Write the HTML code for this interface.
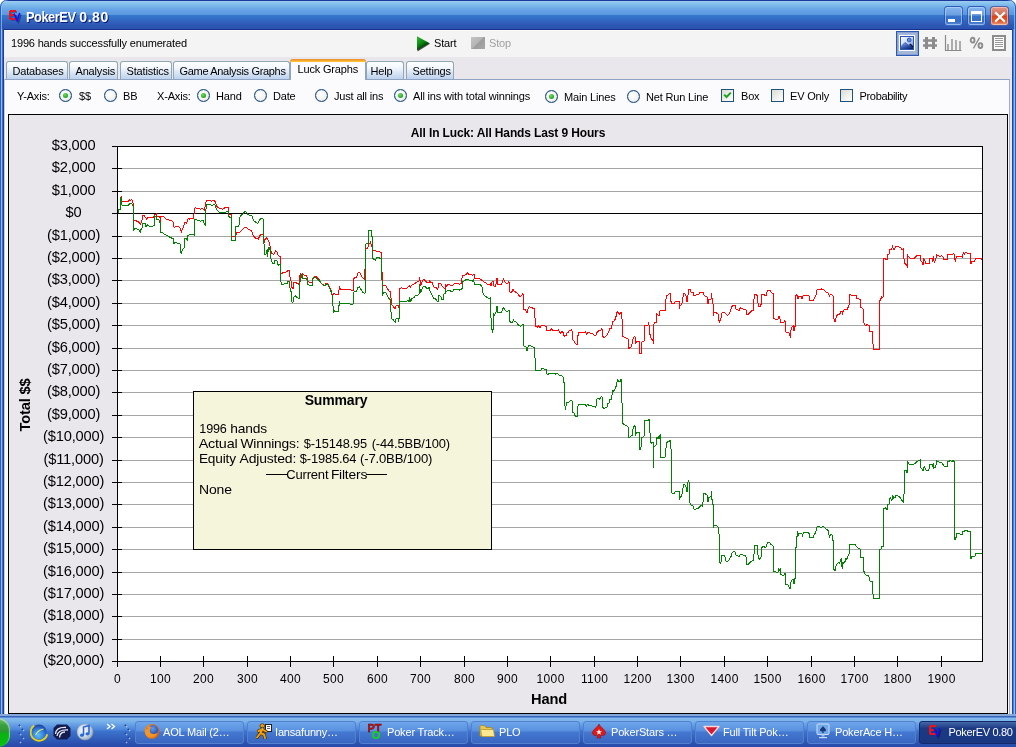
<!DOCTYPE html>
<html>
<head>
<meta charset="utf-8">
<title>PokerEV 0.80</title>
<style>
html,body{margin:0;padding:0;}
body{width:1016px;height:747px;overflow:hidden;position:relative;background:#e9e7ec;font-family:"Liberation Sans",sans-serif;font-size:11px;color:#000;letter-spacing:-0.17px;}
.abs{position:absolute;}
#titlebar{left:0;top:0;width:1016px;height:30px;border-radius:7px 7px 0 0;box-shadow:inset 1px 0 0 #2c5cc0,inset -1px 0 0 #2c5cc0,inset 2px 0 0 rgba(150,200,240,0.7),inset -2px 0 0 rgba(150,200,240,0.7);
 background:linear-gradient(to bottom,#1c3a9e 0px,#1c3a9e 1px,#9dcdf1 1px,#8ac4ee 3px,#72b0e8 7px,#66a2e6 10px,#5c98e0 14.5px,#347acd 15px,#3368c2 20px,#2d58b4 25px,#2b54b0 28.5px,#18308e 29px,#18308e 30px);}
#title2{left:79.3px;top:9px;font-size:14px;line-height:16px;font-weight:bold;color:#fff;letter-spacing:0.55px;text-shadow:1px 1px 0 #0a1a78;white-space:nowrap;}
#title{left:25.5px;top:9px;font-size:14px;line-height:16px;font-weight:bold;color:#fff;letter-spacing:-0.5px;text-shadow:1px 1px 0 #0a1a78;white-space:nowrap;}
#lborder{left:0;top:29px;width:4px;height:688px;background:linear-gradient(to right,#2c5cc0 0,#2c5cc0 1px,#8cbcec 1px,#8cbcec 2px,#3c6cc8 2px,#3c6cc8 3px,#1c3c9c 3px,#1c3c9c 4px);}
#rborder{left:1012px;top:29px;width:4px;height:688px;background:linear-gradient(to right,#2044a8 0,#2044a8 1px,#5080d4 1px,#5080d4 2px,#8cc0ee 2px,#8cc0ee 3px,#2c5cc0 3px,#2c5cc0 4px);}
#bborder{left:0;top:714px;width:1016px;height:3px;background:linear-gradient(to bottom,#88aad8 0,#88aad8 2px,#3a62b8 2px,#3a62b8 3px);}
#toolbar{left:4px;top:30px;width:1008px;height:27px;background:#f4f4f4;border-top:1px solid #fdfdf8;box-sizing:border-box;}
#tabstrip{left:4px;top:57px;width:1008px;height:23px;background:#e9e7ec;}
#page{left:4px;top:79px;width:1006px;height:635px;background:#fbfbfe;border-top:1px solid #8ea4c2;border-left:1px solid #c4cede;border-right:1px solid #9fb0c8;box-sizing:border-box;}
.tab{position:absolute;top:61px;height:18px;box-sizing:border-box;border:1px solid #91a7b4;border-bottom:none;border-radius:3px 3px 0 0;background:linear-gradient(to bottom,#ffffff 0,#f2f6fc 35%,#dbe7f6 60%,#bdd2ee 100%);text-align:left;padding-left:5.5px;line-height:18px;white-space:nowrap;}
.tab.sel{top:59px;height:21px;background:#fbfbfe;border-color:#8ea4c2;border-top:none;line-height:12px;padding-top:4px;z-index:3;}
.tab.sel::before{content:"";position:absolute;left:-1px;right:-1px;top:0;height:3px;border-radius:3px 3px 0 0;background:linear-gradient(to bottom,#e68b2c 0,#f5a530 45%,#ffc73c 100%);}
.lbl{position:absolute;top:90px;line-height:13px;white-space:nowrap;}
.radio{position:absolute;top:89px;width:13px;height:13px;box-sizing:border-box;border:1px solid #1f4f86;box-shadow:0 0 0.6px #1f4f86, inset 0 0 0.6px #1f4f86;border-radius:50%;background:radial-gradient(circle at 40% 40%,#ffffff 0,#f4f4f0 50%,#dcdcd4 100%);}
.radio.on::after{content:"";position:absolute;left:3px;top:3px;width:5px;height:5px;border-radius:50%;background:radial-gradient(circle at 40% 35%,#6fe060 0,#21a121 70%);}
.chk{position:absolute;top:89px;width:13px;height:13px;box-sizing:border-box;border:1px solid #1c5180;background:linear-gradient(135deg,#dcdcd4 0,#ffffff 100%);}
#chart{left:8px;top:114px;width:1000px;height:600px;box-sizing:border-box;border:1px solid #000;background:#e9e7ec;}
#taskbar{left:0;top:717px;width:1016px;height:30px;background:linear-gradient(to bottom,#5c8cd8 0,#5c8cd8 1px,#86bcec 1px,#7cb4ea 4px,#5e98e2 9px,#4a84da 13px,#3c74cc 14px,#3464c0 20px,#2c52b0 26px,#2848a8 30px);}
.tb{position:absolute;top:721px;height:23px;width:109px;box-sizing:border-box;border-radius:3px;border:1px solid #5480d0;background:linear-gradient(to bottom,#6ea6ea 0,#5a92e0 40%,#4478d0 50%,#3a66c2 100%);color:#fff;font-size:11px;line-height:21px;padding-left:27px;white-space:nowrap;overflow:hidden;}
.tb.act{background:linear-gradient(to bottom,#4468a8 0,#1c3a84 30%,#1a3680 100%);border-color:#14286a;width:100px;border-radius:3px 0 0 3px;}

.t{white-space:nowrap;}
.wb{top:6px;width:19px;height:20px;box-sizing:border-box;border:1px solid rgba(34,78,176,0.75);box-shadow:inset 0 0 0 1px rgba(190,218,248,0.6);border-radius:3.5px;background:linear-gradient(to bottom,#86b6ec 0,#6a9ee2 45%,#3674cc 50%,#3a6cc4 80%,#5a8cd6 100%);}
.wb.close{background:linear-gradient(to bottom,#e29686 0,#d26c54 45%,#dc4418 50%,#e05a2c 80%,#eca48c 100%);box-shadow:inset 0 0 0 1px rgba(255,205,190,0.65);}

.grip{top:724px;width:5px;height:20px;background-image:radial-gradient(circle at 1.5px 1.5px,#2448a8 0.8px,rgba(36,72,168,0.0) 1.3px),radial-gradient(circle at 2.3px 2.3px,rgba(255,255,255,0.55) 0.8px,rgba(255,255,255,0.0) 1.4px);background-size:5px 8px;}
.grip::after{content:"";position:absolute;left:3px;top:4px;width:5px;height:16px;background-image:radial-gradient(circle at 1.5px 1.5px,#2448a8 0.8px,rgba(36,72,168,0.0) 1.3px),radial-gradient(circle at 2.3px 2.3px,rgba(255,255,255,0.55) 0.8px,rgba(255,255,255,0.0) 1.4px);background-size:5px 8px;}
</style>
</head>
<body>
<div id="root" style="position:absolute;left:0;top:0;width:1016px;height:747px;overflow:hidden;will-change:transform;opacity:0.9999;">
<div class="abs" style="left:0;top:0;width:1016px;height:10px;background:#fff;"></div>
<div id="titlebar" class="abs"></div>
<div id="title" class="abs"><span style="display:inline-block;transform:scaleX(0.915);transform-origin:0 50%;">PokerEV</span></div>
<div id="title2" class="abs">0.80</div>
<div id="lborder" class="abs"></div>
<div id="rborder" class="abs"></div>
<div id="toolbar" class="abs"></div>
<div id="tabstrip" class="abs"></div>
<div id="page" class="abs"></div>
<div id="status" class="abs" style="left:11px;top:37px;line-height:13px;white-space:nowrap;">1996 hands successfully enumerated</div>


<!-- title icon -->
<svg class="abs" style="left:7px;top:8px;" width="18" height="16" viewBox="0 0 18 16">
 <path d="M3.5 3 L9 3 M3.5 3 L3.5 11 M3.5 7 L8 7 M3.5 11 L9 11" stroke="#30407a" stroke-width="2" fill="none" transform="translate(1,1)" opacity="0.6"/>
 <path d="M3 3 L9 3 M3 3 L3 11 M3 7 L8 7 M3 11 L9 11" stroke="#f01018" stroke-width="2" fill="none"/>
 <path d="M7.5 6 L10.5 13 L13 5.5" stroke="#202868" stroke-width="1.6" fill="none" transform="translate(1,1)" opacity="0.7"/>
 <path d="M7 5.5 L10 12.5 L12.7 5" stroke="#1a10f0" stroke-width="1.6" fill="none"/>
</svg>
<!-- window buttons -->
<div class="abs wb" style="left:944px;"><div class="abs" style="left:3px;top:12px;width:7px;height:3px;background:#fff;"></div></div>
<div class="abs wb" style="left:967px;"><div class="abs" style="left:3px;top:4px;width:11px;height:11px;box-sizing:border-box;border:1px solid #fff;border-top-width:3px;"></div></div>
<div class="abs wb close" style="left:990px;"><svg class="abs" style="left:3px;top:4px" width="12" height="12" viewBox="0 0 12 12"><path d="M1.2 1.2 L10.8 10.8 M10.8 1.2 L1.2 10.8" stroke="#fff" stroke-width="2.1"/></svg></div>
<!-- start/stop -->
<svg class="abs" style="left:415px;top:35px;" width="18" height="18" viewBox="0 0 18 18">
 <defs><linearGradient id="pg" x1="0" y1="0" x2="0.6" y2="1"><stop offset="0" stop-color="#2fc02f"/><stop offset="0.5" stop-color="#0c8a10"/><stop offset="0.85" stop-color="#043008"/><stop offset="1" stop-color="#000000"/></linearGradient></defs>
 <path d="M2.6 2.2 L15 8.7 L2.6 16.6 Z" fill="#202020" opacity="0.75"/>
 <path d="M2 1.2 L14.6 8.3 L2 15.4 Z" fill="url(#pg)"/>
</svg>
<div class="abs t" style="left:434px;top:37px;line-height:13px;">Start</div>
<div class="abs" style="left:471px;top:37px;width:14px;height:12px;background:linear-gradient(135deg,#c4c4c4 0,#b4b4b4 49%,#9c9c9c 51%,#a8a8a8 100%);"></div>
<div class="abs t" style="left:489px;top:37px;line-height:13px;color:#a0a0a0;">Stop</div>
<!-- right toolbar -->
<div class="abs" style="left:896px;top:31px;width:23px;height:25px;box-sizing:border-box;border:1px solid #2c5ab2;outline:1px solid #86a0d4;outline-offset:-2px;background:#a5b7d9;"></div>
<svg class="abs" style="left:899px;top:35px;" width="16" height="16" viewBox="0 0 16 16">
 <defs><linearGradient id="ig" x1="0" y1="0" x2="1" y2="1"><stop offset="0" stop-color="#ffffff"/><stop offset="0.5" stop-color="#c8d8f4"/><stop offset="1" stop-color="#5478c8"/></linearGradient>
 <linearGradient id="mg" x1="0" y1="0" x2="0.7" y2="1"><stop offset="0" stop-color="#9ab4e8"/><stop offset="0.6" stop-color="#3458b0"/><stop offset="1" stop-color="#10286c"/></linearGradient></defs>
 <rect x="0" y="0" width="16" height="16" fill="#fff"/>
 <rect x="1.5" y="1.5" width="13" height="13" fill="url(#ig)" stroke="#2c54b4" stroke-width="1"/>
 <circle cx="10.2" cy="5" r="1.9" fill="#6c90dc" stroke="#2c54b4" stroke-width="1"/>
 <path d="M2 11.5 L6 7.5 L9.5 10 L11 8.8 L14 11.8 L14 14 L2 14 Z" fill="url(#mg)"/>
 <path d="M11 8.8 L14 11.8" stroke="#080c20" stroke-width="1.2"/>
 <path d="M2 11.5 L6 7.5 L9.5 10" stroke="#2c54b4" stroke-width="0.8" fill="none"/>
</svg>
<svg class="abs" style="left:922px;top:36px;" width="16" height="14" viewBox="0 0 16 14">
 <path d="M4.5 1 V13 M11.5 1 V13" stroke="#8c8c8c" stroke-width="3"/>
 <path d="M1 4.5 H15 M1 9.5 H15" stroke="#8c8c8c" stroke-width="2.6"/>
</svg>
<svg class="abs" style="left:944px;top:34px;" width="19" height="18" viewBox="0 0 19 18">
 <path d="M1.5 1 V16.5 H17.5" stroke="#8a8a8a" stroke-width="1.2" fill="none"/>
 <path d="M4 10 V16 M8 5 V16 M12 6 V16 M16 7 V16" stroke="#a0a0a0" stroke-width="1.7"/>
</svg>
<svg class="abs" style="left:969px;top:36px;" width="16" height="14" viewBox="0 0 16 14">
 <ellipse cx="3.6" cy="4.2" rx="1.9" ry="2.4" fill="none" stroke="#8c8c8c" stroke-width="1.9"/>
 <ellipse cx="11.4" cy="9.6" rx="1.9" ry="2.4" fill="none" stroke="#8c8c8c" stroke-width="1.9"/>
 <path d="M10.6 1.6 L4.4 12.4" stroke="#8c8c8c" stroke-width="1.3"/>
</svg>
<svg class="abs" style="left:992px;top:35px;" width="14" height="16" viewBox="0 0 14 16" shape-rendering="crispEdges">
 <rect x="1" y="1" width="12" height="14" fill="#fbfbfb" stroke="#8c8c8c" stroke-width="2"/>
 <path d="M3 3.5 H11 M3 5.5 H11 M3 7.5 H11 M3 9.5 H11 M3 11.5 H11" stroke="#9a9a9a" stroke-width="1"/>
</svg>


<div class="tab" style="left:6px;width:62px;">Databases</div>
<div class="tab" style="left:69px;width:49px;">Analysis</div>
<div class="tab" style="left:120px;width:52px;">Statistics</div>
<div class="tab" style="left:173px;width:117px;letter-spacing:-0.32px;">Game Analysis Graphs</div>
<div class="tab sel" style="left:290px;width:76px;padding-left:6.5px;">Luck Graphs</div>
<div class="tab" style="left:366px;width:38px;padding-left:3.5px;">Help</div>
<div class="tab" style="left:406px;width:48px;">Settings</div>

<div class="lbl" style="left:17px;">Y-Axis:</div>
<div class="radio on" style="left:59px;"></div><div class="lbl" style="left:79px;">$$</div>
<div class="radio" style="left:104px;"></div><div class="lbl" style="left:123px;">BB</div>
<div class="lbl" style="left:157px;">X-Axis:</div>
<div class="radio on" style="left:197px;"></div><div class="lbl" style="left:216px;">Hand</div>
<div class="radio" style="left:254px;"></div><div class="lbl" style="left:273px;">Date</div>
<div class="radio" style="left:315px;"></div><div class="lbl" style="left:334px;">Just all ins</div>
<div class="radio on" style="left:394px;"></div><div class="lbl" style="left:413px;">All ins with total winnings</div>
<div class="radio on" style="left:545px;top:90px;"></div><div class="lbl" style="left:564px;top:91px;">Main Lines</div>
<div class="radio" style="left:627px;top:90px;"></div><div class="lbl" style="left:646px;top:91px;">Net Run Line</div>
<div class="chk" style="left:721px;"><svg style="position:absolute;left:1px;top:1px" width="9" height="9" viewBox="0 0 9 9"><path d="M1.2 3.6 L3.5 6 L7.8 1.6" stroke="#21a121" stroke-width="2" fill="none"/></svg></div><div class="lbl" style="left:741px;">Box</div>
<div class="chk" style="left:771px;"></div><div class="lbl" style="left:790px;">EV Only</div>
<div class="chk" style="left:840px;"></div><div class="lbl" style="left:859.5px;letter-spacing:-0.33px;">Probability</div>

<div id="chart" class="abs"></div>
<svg class="abs" style="left:0;top:0;" width="1016" height="717" viewBox="0 0 1016 717">
<rect x="117" y="146" width="866" height="516" fill="#ffffff"/>
<path d="M122 168.5 H982 M122 191.5 H982 M122 236.5 H982 M122 258.5 H982 M122 280.5 H982 M122 303.5 H982 M122 325.5 H982 M122 348.5 H982 M122 370.5 H982 M122 392.5 H982 M122 415.5 H982 M122 437.5 H982 M122 460.5 H982 M122 482.5 H982 M122 504.5 H982 M122 527.5 H982 M122 549.5 H982 M122 572.5 H982 M122 594.5 H982 M122 616.5 H982 M122 639.5 H982" stroke="#a6a6a6" stroke-width="1" fill="none" shape-rendering="crispEdges"/>
<path d="M112 146.5 H983 M117.5 146 V667 M982.5 146 V662 M112 661.5 H983 M112 213.5 H983 M112 168.5 H122 M112 191.5 H122 M112 213.5 H122 M112 236.5 H122 M112 258.5 H122 M112 280.5 H122 M112 303.5 H122 M112 325.5 H122 M112 348.5 H122 M112 370.5 H122 M112 392.5 H122 M112 415.5 H122 M112 437.5 H122 M112 460.5 H122 M112 482.5 H122 M112 504.5 H122 M112 527.5 H122 M112 549.5 H122 M112 572.5 H122 M112 594.5 H122 M112 616.5 H122 M112 639.5 H122 M160.5 656 V667 M203.5 656 V667 M247.5 656 V667 M290.5 656 V667 M333.5 656 V667 M377.5 656 V667 M420.5 656 V667 M464.5 656 V667 M507.5 656 V667 M550.5 656 V667 M594.5 656 V667 M637.5 656 V667 M680.5 656 V667 M724.5 656 V667 M767.5 656 V667 M811.5 656 V667 M854.5 656 V667 M897.5 656 V667 M941.5 656 V667" stroke="#000" stroke-width="1" fill="none" shape-rendering="crispEdges"/>
<path d="M118.0 212.6 L118.0 209.6 L120.5 209.6 L120.8 198.6 L121.3 197.6 L122.0 201.1 L128.6 201.1 L129.6 199.6 L130.6 200.6 L131.6 199.6 L132.6 200.6 L133.1 203.6 L133.6 207.1 L133.9 220.6 L137.1 221.1 L138.6 222.1 L140.6 224.2 L141.6 221.1 L142.1 220.1 L142.6 215.1 L144.1 215.6 L146.6 219.1 L148.1 217.1 L150.2 217.6 L153.2 217.1 L154.7 214.6 L156.2 214.1 L156.7 216.6 L159.2 216.6 L160.2 218.1 L160.5 221.6 L160.9 216.6 L163.2 216.6 L165.2 218.1 L166.7 219.6 L169.2 220.1 L172.2 221.1 L173.2 222.1 L173.7 226.7 L174.8 227.2 L175.8 226.2 L177.8 226.2 L179.3 227.2 L180.3 228.2 L181.3 232.2 L182.3 229.2 L183.8 226.7 L184.5 222.7 L186.3 222.7 L186.8 223.7 L187.5 219.6 L188.3 218.6 L189.3 219.1 L190.3 218.6 L193.8 218.1 L194.3 208.6 L195.3 207.6 L197.3 208.6 L200.4 209.1 L202.4 208.6 L203.4 209.6 L204.6 210.6 L205.4 203.6 L206.4 200.6 L209.9 200.6 L211.4 201.1 L211.2 201.6 L213.6 200.4 L215.4 201.6 L216.4 206.1 L218.4 207.7 L220.9 208.5 L222.7 209.1 L225.1 207.7 L228.4 207.3 L228.7 213.9 L231.5 214.5 L231.7 236.6 L235.7 236.6 L236.5 232.6 L240.1 232.2 L242.5 229.6 L245.0 227.2 L246.8 227.8 L248.6 229.8 L251.3 230.2 L252.8 234.4 L254.6 237.4 L256.4 238.6 L258.2 239.2 L259.4 236.8 L260.6 234.4 L263.0 234.2 L263.6 238.0 L264.6 241.6 L265.4 239.2 L266.6 238.0 L268.4 240.4 L269.7 244.0 L270.6 250.1 L272.1 253.7 L273.9 254.3 L275.4 250.7 L276.9 251.9 L278.1 255.5 L280.3 256.7 L280.7 269.3 L281.1 273.6 L284.1 272.3 L287.1 271.7 L287.7 270.5 L289.5 270.5 L289.9 275.0 L289.9 276.8 L291.1 281.0 L291.7 287.7 L293.1 288.3 L293.9 282.8 L295.3 282.2 L297.1 283.4 L298.9 284.3 L299.6 276.8 L300.4 273.2 L300.8 278.0 L302.3 273.8 L304.3 275.0 L306.7 275.4 L307.6 280.4 L309.2 282.2 L312.2 282.2 L313.1 277.4 L315.8 276.2 L317.6 278.0 L319.4 279.8 L320.6 282.6 L323.0 284.6 L324.8 285.2 L326.0 283.4 L328.4 284.3 L329.6 287.7 L331.4 291.3 L332.4 296.1 L333.9 293.7 L335.7 294.3 L338.1 294.9 L338.9 290.7 L339.6 286.4 L340.5 289.5 L349.5 289.5 L351.3 290.3 L353.1 290.1 L353.7 279.0 L354.9 277.4 L356.7 277.0 L357.7 273.2 L359.2 272.2 L360.4 273.8 L362.2 277.4 L364.6 279.0 L365.8 249.1 L367.6 248.5 L368.8 244.3 L370.6 241.9 L371.4 246.7 L372.4 247.3 L373.0 250.3 L374.8 250.9 L378.4 251.3 L381.4 252.7 L382.0 271.4 L382.7 280.4 L383.0 285.2 L385.7 285.2 L387.5 288.9 L389.3 291.3 L390.0 291.3 L390.4 292.8 L391.0 298.2 L391.6 304.8 L392.8 306.0 L394.0 307.8 L395.2 308.4 L396.1 305.7 L398.0 305.4 L398.9 307.2 L399.2 301.8 L399.7 288.6 L401.3 287.6 L403.1 288.6 L406.7 288.3 L408.5 286.7 L409.1 285.5 L410.3 287.3 L411.5 285.5 L412.7 284.3 L415.1 283.7 L415.7 282.5 L417.5 281.9 L419.0 281.1 L419.5 277.5 L420.2 281.3 L420.7 285.5 L421.4 284.9 L422.3 280.7 L423.6 279.2 L425.4 281.1 L427.2 282.5 L429.0 282.8 L429.8 280.7 L430.8 282.3 L432.2 282.5 L433.2 285.5 L434.4 287.3 L436.2 287.6 L437.8 289.2 L438.6 283.5 L440.4 283.1 L441.6 285.5 L443.4 287.6 L445.0 288.8 L445.5 284.9 L446.4 286.1 L447.7 284.7 L450.1 284.9 L451.3 285.5 L453.1 285.2 L454.3 283.7 L456.1 283.1 L457.9 283.5 L459.1 284.3 L461.5 283.7 L462.3 275.3 L464.5 275.1 L466.3 274.1 L467.5 273.1 L469.3 274.7 L471.1 274.1 L472.3 275.1 L474.4 274.7 L474.9 278.3 L477.8 278.3 L479.6 278.7 L481.4 279.9 L483.2 281.3 L485.0 282.5 L487.4 284.3 L489.2 284.9 L490.4 283.7 L491.0 286.1 L492.0 281.9 L493.4 281.6 L494.0 286.1 L494.9 286.7 L495.8 284.9 L496.0 284.7 L496.4 278.4 L497.4 278.4 L497.7 284.5 L501.6 284.5 L502.5 281.4 L503.4 279.0 L504.6 281.1 L505.8 283.0 L507.7 283.5 L508.5 282.0 L509.5 282.3 L509.7 291.7 L510.7 292.7 L511.9 291.7 L513.1 289.3 L514.3 291.4 L516.1 292.3 L517.9 294.1 L519.7 296.3 L521.5 295.9 L522.5 293.5 L523.3 294.1 L523.7 309.2 L525.1 309.8 L526.6 311.6 L527.3 313.4 L527.8 309.2 L529.3 306.4 L531.1 307.6 L533.6 308.3 L534.5 309.2 L535.0 318.2 L535.7 326.6 L537.2 327.2 L538.6 326.0 L540.2 327.6 L541.4 325.7 L543.2 325.2 L544.6 326.0 L546.2 326.4 L546.6 330.2 L548.6 330.5 L550.7 330.0 L551.6 329.0 L552.8 330.2 L554.6 330.8 L556.2 330.2 L558.3 330.0 L559.5 331.7 L560.7 333.3 L561.9 331.4 L563.4 332.7 L564.3 336.9 L565.1 335.7 L566.3 335.1 L567.0 332.7 L568.5 332.0 L569.7 330.2 L571.5 330.0 L572.1 331.4 L572.7 339.9 L573.9 340.5 L575.1 343.3 L576.7 344.7 L577.5 344.1 L577.9 336.0 L578.7 332.4 L581.7 332.0 L584.8 332.0 L585.6 331.2 L586.3 334.5 L587.5 332.7 L589.0 332.4 L590.2 333.3 L591.4 333.9 L592.8 333.6 L594.4 335.1 L596.0 335.3 L596.8 332.7 L598.0 331.4 L599.2 330.2 L600.4 330.8 L601.6 329.0 L602.2 329.6 L602.6 336.3 L604.0 337.7 L605.2 336.9 L607.0 335.1 L608.0 332.7 L608.9 332.0 L609.5 328.4 L611.6 328.1 L612.5 321.8 L613.7 321.2 L615.0 319.6 L615.8 317.6 L616.6 313.4 L617.5 311.6 L618.7 313.6 L619.9 314.3 L621.1 311.6 L621.6 318.2 L622.5 319.4 L622.8 336.3 L624.5 337.2 L626.3 338.1 L628.1 339.3 L628.7 348.3 L630.2 347.7 L631.7 346.1 L632.7 339.9 L633.9 336.9 L634.7 336.3 L635.3 337.5 L635.5 343.3 L636.5 342.9 L636.7 341.3 L639.2 341.3 L639.6 353.1 L641.3 353.1 L641.7 342.3 L643.1 341.3 L644.3 340.8 L644.7 325.4 L648.0 325.4 L648.6 323.6 L649.3 325.4 L649.8 333.9 L650.7 336.3 L651.2 339.6 L652.8 339.6 L653.4 344.1 L653.6 324.2 L654.8 322.8 L656.4 322.4 L656.7 313.6 L658.0 314.8 L659.2 315.5 L659.6 311.6 L660.8 310.4 L663.6 310.4 L665.2 310.7 L665.7 302.5 L666.4 295.5 L667.8 295.1 L669.0 293.9 L670.2 293.5 L670.7 300.7 L671.7 303.1 L674.5 303.5 L675.3 301.6 L677.5 301.6 L679.3 301.9 L679.6 308.6 L680.1 305.5 L681.7 304.9 L682.5 298.9 L683.7 293.5 L685.3 294.3 L686.1 295.9 L686.6 301.3 L687.6 301.3 L688.1 294.1 L688.9 289.9 L690.5 289.3 L691.0 292.3 L693.1 292.7 L693.7 295.3 L695.8 295.1 L697.0 294.3 L698.9 294.1 L699.8 292.3 L703.4 292.3 L704.0 295.3 L705.8 296.3 L707.3 297.5 L707.8 303.1 L708.6 303.1 L709.0 299.5 L711.0 298.9 L711.4 293.5 L712.2 298.9 L712.7 303.7 L713.4 304.3 L713.6 315.5 L714.2 312.2 L716.0 312.4 L717.8 314.0 L718.7 314.8 L719.0 320.4 L719.6 322.0 L720.8 319.4 L721.4 314.8 L722.3 312.4 L724.2 312.4 L725.7 314.0 L727.5 315.2 L728.7 314.3 L730.0 312.4 L730.8 309.8 L731.6 306.7 L733.2 305.5 L735.2 305.2 L735.8 308.8 L737.7 309.8 L739.2 310.4 L740.4 307.6 L741.9 308.8 L743.7 309.2 L745.5 309.5 L746.4 311.0 L746.7 314.3 L748.5 314.0 L750.3 312.4 L751.7 310.7 L753.3 310.4 L753.7 302.3 L754.4 294.7 L756.1 294.7 L757.3 295.5 L757.8 302.5 L758.7 306.1 L760.2 306.1 L761.1 304.3 L761.6 294.7 L763.3 294.3 L764.8 295.3 L766.2 295.1 L767.2 291.7 L768.1 290.5 L770.2 290.5 L771.4 292.7 L773.2 293.5 L773.7 318.8 L775.4 319.2 L778.0 319.2 L778.6 316.4 L779.8 316.7 L780.4 322.0 L781.6 322.8 L783.8 323.0 L784.3 320.6 L785.2 321.6 L785.7 331.7 L787.0 332.4 L788.9 332.4 L789.5 335.1 L790.3 336.3 L791.0 330.2 L792.2 326.6 L793.1 326.0 L793.4 330.8 L794.4 330.8 L794.9 326.0 L795.5 326.0 L795.6 295.5 L797.0 294.7 L797.5 298.3 L798.3 298.3 L798.7 296.3 L801.5 296.3 L802.1 298.9 L803.1 295.9 L804.5 295.3 L808.4 295.3 L809.3 296.5 L809.6 300.4 L813.6 300.4 L814.4 298.3 L816.0 294.7 L816.6 291.1 L817.5 289.3 L821.4 289.0 L823.6 289.3 L825.0 291.1 L826.8 292.3 L828.4 293.5 L829.6 295.9 L830.4 294.3 L832.2 295.3 L833.4 296.3 L833.7 317.6 L834.4 321.2 L835.2 321.2 L835.8 318.2 L837.0 315.2 L838.9 314.3 L840.4 313.6 L840.9 311.6 L842.1 311.6 L842.5 314.8 L843.3 311.0 L844.3 309.8 L845.0 310.0 L846.0 309.7 L847.5 309.1 L848.7 305.5 L849.4 304.3 L849.6 294.6 L850.8 295.0 L856.3 295.0 L856.6 298.3 L858.1 298.6 L860.2 299.5 L860.7 307.3 L862.3 308.3 L863.5 309.5 L863.5 322.2 L864.7 324.3 L865.9 326.1 L866.7 324.9 L869.2 325.1 L869.5 331.5 L872.3 331.9 L872.5 343.6 L873.5 344.4 L873.7 349.2 L879.2 349.2 L879.3 300.7 L880.4 300.1 L881.6 297.0 L882.4 297.7 L883.4 296.4 L883.6 258.5 L885.2 258.5 L885.8 259.7 L887.2 259.1 L887.6 254.3 L889.4 254.0 L889.6 249.5 L891.8 249.2 L892.4 246.4 L893.6 249.5 L894.8 248.9 L895.4 247.0 L896.6 246.1 L899.0 247.0 L900.8 247.7 L902.0 250.1 L903.3 249.2 L903.9 257.9 L904.5 263.3 L906.0 264.5 L907.2 266.3 L907.5 254.3 L908.4 256.7 L909.9 258.1 L912.3 258.5 L914.5 258.1 L915.9 256.7 L917.1 255.5 L920.1 255.2 L920.5 260.9 L921.9 261.3 L922.5 264.5 L923.4 264.2 L923.7 259.1 L924.9 259.7 L925.3 263.7 L929.2 263.7 L929.6 258.5 L932.2 258.1 L932.5 261.5 L933.4 256.4 L934.0 260.9 L934.6 262.1 L935.8 259.7 L936.4 254.5 L937.8 255.5 L939.4 256.4 L941.8 255.7 L943.0 257.3 L943.6 259.3 L947.0 259.7 L947.5 254.9 L949.0 254.3 L951.4 254.9 L953.3 253.7 L954.2 254.3 L954.5 259.4 L955.4 260.6 L956.0 257.9 L956.4 256.4 L962.0 256.4 L962.4 257.6 L962.6 254.3 L963.5 253.1 L964.4 254.3 L965.3 252.5 L966.5 252.5 L967.4 253.4 L970.4 253.4 L970.7 263.3 L971.4 263.3 L971.6 261.5 L974.3 261.4 L974.9 260.6 L975.5 259.1 L976.1 258.4 L981.3 258.4 L981.6 259.4 L982.2 258.8" stroke="#ff0000" stroke-width="1" fill="none" stroke-linejoin="miter" shape-rendering="crispEdges"/>
<path d="M118.0 212.6 L118.0 209.6 L120.5 209.6 L120.5 198.1 L121.0 198.6 L121.0 204.6 L122.0 205.1 L128.6 205.1 L129.6 203.6 L131.6 203.6 L132.6 204.6 L133.3 207.6 L133.3 230.7 L134.6 228.7 L138.6 229.2 L140.1 232.2 L141.1 229.2 L142.1 228.2 L142.6 223.7 L145.1 223.2 L146.1 227.2 L147.1 224.7 L149.1 226.2 L152.2 226.2 L154.7 225.2 L154.9 216.1 L156.2 216.6 L156.2 219.1 L158.7 219.6 L159.7 222.1 L160.5 222.7 L160.5 232.2 L162.2 232.7 L165.2 234.7 L168.2 236.2 L170.7 237.7 L173.2 238.7 L173.4 243.2 L176.3 242.7 L178.8 243.7 L180.5 244.2 L180.8 252.3 L181.3 253.3 L182.3 249.8 L184.3 247.8 L184.5 238.2 L185.8 238.2 L187.3 240.2 L187.5 235.7 L190.3 234.7 L192.8 234.2 L194.3 235.2 L194.5 219.1 L197.3 220.1 L200.4 221.1 L202.9 220.1 L203.9 222.7 L205.4 225.2 L205.6 209.1 L206.4 208.6 L206.6 204.1 L209.9 204.1 L211.4 205.1 L211.8 205.5 L214.2 204.3 L215.4 205.5 L216.4 209.1 L218.4 211.5 L219.7 212.5 L225.1 212.5 L226.3 211.5 L228.4 211.5 L228.7 216.3 L229.9 217.5 L231.5 217.5 L231.7 240.4 L235.7 240.4 L235.9 226.6 L238.9 226.6 L239.5 217.5 L241.3 215.1 L243.1 213.9 L245.0 211.3 L246.2 212.1 L247.4 213.9 L249.2 215.1 L251.6 215.1 L252.8 218.7 L254.6 221.7 L256.4 222.3 L257.6 223.6 L258.8 221.1 L260.6 218.5 L262.4 218.5 L263.6 219.9 L263.9 242.2 L264.6 254.3 L266.0 254.3 L266.3 250.7 L267.2 250.1 L267.5 256.7 L268.4 247.7 L269.4 247.7 L270.3 250.7 L270.6 257.3 L271.5 261.5 L272.7 263.3 L274.5 263.3 L274.7 260.3 L276.9 260.3 L277.5 263.3 L278.1 265.1 L280.3 264.5 L280.5 275.0 L280.6 279.8 L281.4 284.3 L283.9 284.0 L285.1 283.1 L287.5 283.1 L288.1 281.0 L289.3 281.0 L289.9 287.7 L291.1 291.9 L291.7 301.5 L292.9 302.7 L293.5 297.3 L295.3 295.5 L297.1 297.9 L299.3 298.3 L299.6 282.8 L300.7 279.8 L301.9 273.8 L302.5 278.0 L306.7 278.0 L307.6 284.0 L309.2 285.2 L312.2 285.2 L313.1 278.0 L314.6 277.4 L316.4 278.0 L317.6 279.8 L319.4 280.2 L320.6 282.8 L323.0 285.2 L324.8 285.8 L326.0 284.0 L327.8 285.0 L329.6 288.3 L331.4 292.5 L332.4 297.3 L332.9 304.5 L333.5 313.0 L334.5 310.5 L336.3 311.7 L338.4 311.7 L338.9 306.3 L339.6 301.5 L340.1 303.9 L344.1 303.9 L345.3 303.3 L349.5 303.6 L351.3 304.5 L353.1 303.9 L353.7 292.5 L354.9 291.3 L356.7 291.0 L357.7 287.7 L359.4 286.7 L360.4 288.9 L361.8 290.1 L362.8 292.5 L364.6 293.4 L365.4 291.9 L365.8 244.3 L367.3 243.3 L368.2 243.1 L368.6 231.0 L371.4 230.4 L371.8 236.4 L372.4 237.0 L372.7 258.1 L373.9 259.3 L375.4 260.5 L376.6 257.5 L378.4 257.3 L379.6 258.1 L381.4 258.1 L382.0 280.4 L382.7 296.1 L383.3 292.5 L385.7 292.5 L387.5 296.1 L389.3 299.1 L390.0 299.7 L390.4 299.6 L390.8 307.8 L391.3 318.7 L392.8 319.3 L394.6 322.0 L395.6 322.5 L396.1 318.7 L398.0 318.4 L398.5 321.7 L399.2 318.1 L399.7 301.8 L403.1 301.6 L406.7 301.6 L407.9 300.0 L409.1 301.8 L409.7 298.8 L410.9 301.2 L412.1 298.2 L413.9 297.6 L415.1 295.8 L417.5 295.2 L419.3 294.0 L419.7 284.3 L420.2 292.2 L421.1 291.6 L422.3 288.6 L423.6 286.1 L425.4 286.7 L426.6 288.3 L428.4 288.8 L429.0 287.3 L429.8 290.4 L431.4 293.4 L432.6 295.8 L433.8 298.4 L435.6 298.8 L437.4 301.2 L438.3 301.2 L438.7 295.5 L439.8 295.8 L441.0 296.7 L441.6 299.4 L443.4 299.4 L443.8 294.0 L445.0 293.6 L445.5 289.8 L446.4 291.6 L447.7 290.4 L450.1 290.7 L451.3 291.6 L453.1 291.0 L453.7 289.5 L456.1 289.5 L458.5 289.2 L459.7 290.4 L461.5 289.2 L462.3 288.0 L462.8 281.6 L464.5 280.7 L466.3 279.5 L468.1 279.3 L469.3 280.1 L471.1 280.7 L472.3 281.3 L473.6 279.5 L474.4 284.3 L476.6 284.7 L480.2 284.7 L481.4 285.9 L482.3 287.3 L482.8 292.2 L483.8 294.8 L485.6 296.4 L487.4 297.6 L488.9 298.4 L490.4 297.6 L490.8 315.1 L491.3 322.3 L492.0 329.5 L492.6 332.5 L493.2 329.5 L493.7 313.9 L494.6 315.1 L495.8 312.7 L496.0 312.4 L496.4 306.1 L497.4 306.1 L497.7 312.4 L501.6 312.4 L502.5 309.8 L503.4 307.6 L504.6 309.2 L505.8 311.0 L507.7 311.9 L508.5 310.4 L509.5 310.7 L509.7 321.2 L510.7 322.4 L512.5 322.0 L513.3 320.0 L514.3 321.8 L516.1 322.0 L517.3 323.6 L519.1 325.7 L520.9 326.4 L522.1 324.8 L523.3 324.5 L523.7 345.9 L525.1 346.9 L526.6 347.1 L526.9 351.3 L527.5 348.3 L528.5 345.7 L529.9 345.3 L531.1 346.1 L533.0 346.9 L534.5 347.7 L534.5 347.3 L534.7 357.9 L535.4 358.5 L535.4 370.2 L541.1 370.2 L542.3 368.1 L544.1 369.3 L546.3 369.7 L546.7 373.6 L548.0 374.5 L549.5 373.3 L553.7 373.3 L555.2 374.2 L556.7 373.3 L558.3 374.2 L559.8 376.0 L561.6 375.4 L563.1 376.9 L563.6 382.0 L564.6 382.6 L564.8 403.7 L565.5 410.3 L566.4 403.1 L567.6 402.5 L569.4 401.9 L570.6 400.3 L572.0 401.0 L572.5 412.1 L574.0 412.7 L575.2 416.0 L577.2 416.3 L577.6 408.5 L578.4 404.6 L585.1 404.3 L586.3 406.3 L587.7 404.3 L589.3 405.5 L591.1 405.1 L592.3 406.1 L594.1 406.3 L595.9 407.5 L596.5 400.7 L597.3 398.6 L598.9 398.3 L599.5 399.5 L601.0 397.0 L601.9 396.4 L602.5 397.7 L602.7 407.3 L603.7 408.3 L605.5 407.9 L607.0 407.0 L607.7 403.7 L608.9 403.9 L609.6 399.8 L611.6 399.1 L612.5 390.7 L613.4 391.6 L614.9 389.0 L615.8 386.6 L616.6 386.2 L617.3 379.6 L618.6 381.4 L619.8 382.0 L621.0 379.6 L621.4 379.3 L621.9 402.5 L622.7 404.3 L622.2 403.0 L622.5 422.9 L624.0 424.3 L625.8 425.3 L627.7 426.5 L628.5 428.3 L628.7 437.3 L630.1 437.1 L631.3 435.5 L632.5 435.2 L633.1 428.3 L634.3 425.5 L635.2 426.7 L635.7 434.3 L636.7 432.3 L639.1 432.3 L639.7 434.0 L639.8 449.2 L640.9 449.4 L641.5 437.6 L643.3 436.7 L644.2 435.5 L644.4 420.5 L648.1 420.2 L649.3 419.3 L649.9 432.5 L650.5 434.3 L650.7 442.2 L651.7 443.1 L653.0 442.4 L653.6 445.2 L653.6 467.5 L653.8 446.4 L655.4 446.0 L656.2 444.6 L656.6 437.6 L658.1 438.3 L659.3 436.1 L659.8 438.6 L660.3 433.7 L660.5 457.2 L665.0 457.2 L665.4 449.2 L666.2 447.6 L666.6 442.4 L668.6 441.6 L670.2 440.4 L670.7 448.8 L671.4 449.4 L671.6 490.0 L671.6 492.8 L673.0 493.7 L674.5 493.1 L675.4 491.3 L679.0 491.3 L679.5 499.7 L680.2 496.9 L681.7 496.4 L682.7 490.1 L683.5 484.6 L684.7 484.4 L685.9 486.1 L686.5 491.3 L687.5 491.3 L688.0 482.0 L688.9 480.4 L689.4 485.8 L689.6 502.7 L690.7 503.9 L691.1 505.4 L692.8 505.4 L693.5 508.5 L694.9 509.7 L696.1 508.7 L698.3 508.5 L699.8 506.6 L701.2 505.4 L702.8 506.1 L703.4 493.7 L704.8 493.3 L705.8 494.5 L707.2 495.2 L707.7 501.3 L708.4 501.3 L708.8 497.9 L710.0 496.9 L711.2 496.1 L711.6 491.3 L712.0 499.3 L712.8 500.1 L713.0 504.5 L713.5 505.1 L713.6 528.0 L714.2 525.4 L716.6 525.4 L717.8 526.6 L718.4 527.4 L718.8 533.8 L719.5 534.3 L719.6 562.3 L720.5 563.6 L721.2 561.7 L721.7 555.5 L723.3 555.1 L724.8 556.0 L725.7 560.5 L726.9 561.5 L728.4 560.8 L729.9 558.1 L731.1 556.3 L732.0 553.1 L733.7 551.5 L735.3 552.3 L735.9 555.1 L737.7 556.0 L738.9 557.2 L740.1 554.8 L741.3 554.3 L743.1 555.1 L744.9 555.5 L746.1 556.9 L746.5 563.6 L747.3 564.8 L749.2 563.6 L750.6 562.0 L751.8 561.1 L753.4 560.8 L754.0 553.9 L754.5 545.5 L755.8 545.1 L757.3 545.8 L757.8 554.5 L758.8 558.1 L759.8 559.3 L761.0 557.2 L761.4 548.7 L762.4 546.7 L763.9 546.3 L765.0 547.8 L766.0 547.3 L766.4 544.5 L768.0 542.7 L769.8 542.5 L770.8 544.5 L772.2 545.1 L773.4 546.1 L773.7 571.4 L775.2 571.6 L776.4 572.6 L778.0 572.2 L778.5 568.6 L779.7 570.2 L780.2 568.3 L780.7 574.0 L781.6 575.0 L784.0 575.2 L784.5 573.4 L785.2 573.8 L785.5 584.3 L787.3 584.6 L788.5 585.1 L789.3 588.3 L790.3 588.3 L790.5 583.7 L791.5 580.7 L792.5 579.5 L793.4 579.5 L793.7 583.4 L794.4 583.4 L794.6 578.9 L795.4 578.3 L795.7 548.1 L796.3 546.9 L796.6 537.3 L797.3 536.1 L797.5 531.3 L798.1 536.4 L798.7 533.3 L801.7 533.3 L802.6 536.4 L803.3 533.1 L804.8 532.5 L808.1 532.5 L809.3 533.7 L809.6 537.3 L813.2 537.3 L814.2 534.9 L815.4 532.8 L816.2 530.1 L817.0 526.8 L818.6 526.4 L820.4 527.0 L821.9 527.3 L822.8 526.4 L824.0 526.8 L825.2 528.3 L826.7 529.5 L827.9 530.1 L828.6 533.1 L829.5 537.7 L830.3 534.3 L831.9 534.9 L832.5 536.7 L832.7 540.1 L833.4 540.9 L833.7 568.6 L834.3 570.2 L835.1 570.4 L835.8 566.8 L837.0 563.8 L838.5 562.6 L839.7 563.2 L840.4 559.8 L841.1 559.3 L841.6 565.6 L842.3 567.0 L842.8 562.6 L843.9 563.4 L845.1 561.4 L845.7 558.6 L846.9 559.3 L847.5 556.6 L848.7 554.5 L849.3 553.3 L849.6 544.5 L854.8 544.3 L855.6 545.1 L856.6 546.9 L858.4 548.1 L860.2 549.0 L860.7 557.2 L863.2 557.8 L863.8 559.0 L864.0 571.6 L864.8 573.4 L866.0 575.0 L867.4 575.0 L868.9 575.8 L869.6 580.7 L871.0 581.5 L872.2 581.5 L872.8 593.3 L873.4 594.5 L873.7 598.4 L879.2 598.4 L879.5 549.9 L880.9 549.0 L881.9 546.6 L883.3 546.3 L883.5 514.9 L883.5 508.3 L885.4 507.9 L886.3 508.9 L887.5 509.5 L887.8 504.6 L889.3 504.0 L889.5 499.2 L890.7 498.0 L891.4 500.4 L892.4 499.8 L892.7 495.4 L893.5 498.0 L895.1 497.4 L895.9 495.6 L897.5 495.4 L898.9 496.6 L900.4 498.0 L901.6 500.2 L902.8 501.4 L903.3 502.2 L903.5 494.4 L904.5 493.8 L904.7 470.3 L906.4 470.3 L906.7 472.5 L907.6 472.1 L907.8 461.3 L908.6 464.0 L911.0 464.3 L913.1 464.9 L914.0 463.7 L915.5 463.1 L917.2 461.3 L918.8 460.9 L920.0 460.4 L920.4 459.5 L920.6 467.9 L921.8 468.5 L922.4 470.3 L923.6 470.1 L924.0 466.7 L924.8 466.9 L925.4 469.7 L926.9 470.5 L928.4 470.1 L929.3 468.5 L929.6 464.9 L931.2 464.3 L932.4 464.9 L932.9 467.3 L933.4 463.1 L933.9 467.9 L935.1 467.3 L936.0 465.5 L936.5 460.7 L938.1 461.3 L939.3 462.5 L941.1 462.5 L942.3 463.1 L943.5 465.5 L944.9 466.7 L947.1 466.4 L947.7 461.9 L948.9 461.3 L950.5 460.4 L951.9 461.9 L953.1 460.4 L954.3 461.9 L954.5 512.4 L954.5 539.3 L955.5 539.3 L955.9 537.7 L956.5 537.3 L956.7 533.5 L959.7 533.5 L960.4 534.5 L962.5 534.5 L962.8 531.5 L964.1 531.3 L964.9 530.2 L966.9 530.2 L967.8 531.3 L970.2 531.3 L970.6 532.5 L970.6 558.2 L971.6 558.2 L971.9 556.6 L974.6 556.4 L975.4 555.4 L975.6 553.5 L982.2 553.5" stroke="#008000" stroke-width="1" fill="none" stroke-linejoin="miter" shape-rendering="crispEdges"/>
<rect x="193.5" y="391.5" width="298" height="158" fill="#f5f5dc" stroke="#000" stroke-width="1" shape-rendering="crispEdges"/>
<g font-family="Liberation Sans, sans-serif" fill="#000">
<text x="336" y="405" font-size="14" font-weight="bold" text-anchor="middle">Summary</text>
<g font-size="13">
<text x="199.3" y="433" textLength="27.4" lengthAdjust="spacingAndGlyphs">1996</text>
<text x="230.3" y="433" textLength="36.6" lengthAdjust="spacingAndGlyphs">hands</text>
<text x="198.7" y="448" textLength="38.8" lengthAdjust="spacingAndGlyphs">Actual</text>
<text x="240.5" y="448" textLength="58.9" lengthAdjust="spacingAndGlyphs">Winnings:</text>
<text x="303.8" y="448" textLength="63.2" lengthAdjust="spacingAndGlyphs">$-15148.95</text>
<text x="371.7" y="448" textLength="78.3" lengthAdjust="spacingAndGlyphs">(-44.5BB/100)</text>
<text x="198.9" y="463" textLength="36.9" lengthAdjust="spacingAndGlyphs">Equity</text>
<text x="239.5" y="463" textLength="56.6" lengthAdjust="spacingAndGlyphs">Adjusted:</text>
<text x="299.8" y="463" textLength="56.5" lengthAdjust="spacingAndGlyphs">$-1985.64</text>
<text x="360.0" y="463" textLength="72.3" lengthAdjust="spacingAndGlyphs">(-7.0BB/100)</text>
<text x="286.2" y="478.5" textLength="42.2" lengthAdjust="spacingAndGlyphs">Current</text>
<text x="330.9" y="478.5" textLength="36.2" lengthAdjust="spacingAndGlyphs">Filters</text>
<text x="199.1" y="493.7" textLength="32.7" lengthAdjust="spacingAndGlyphs">None</text>
</g>
<path d="M266 474.5 H287 M366 474.5 H387" stroke="#000" stroke-width="1" shape-rendering="crispEdges"/>
<text x="508" y="137" font-size="12" font-weight="bold" text-anchor="middle" letter-spacing="-0.13">All In Luck: All Hands Last 9 Hours</text>
<g font-size="14.67" text-anchor="middle">
<text x="73.6" y="150.4">$3,000</text>
<text x="73.6" y="172.4">$2,000</text>
<text x="73.6" y="195.4">$1,000</text>
<text x="73.6" y="217.4">$0</text>
<text x="73.6" y="240.4">($1,000)</text>
<text x="73.6" y="262.4">($2,000)</text>
<text x="73.6" y="284.4">($3,000)</text>
<text x="73.6" y="307.4">($4,000)</text>
<text x="73.6" y="329.4">($5,000)</text>
<text x="73.6" y="352.4">($6,000)</text>
<text x="73.6" y="374.4">($7,000)</text>
<text x="73.6" y="396.4">($8,000)</text>
<text x="73.6" y="419.4">($9,000)</text>
<text x="73.6" y="441.4">($10,000)</text>
<text x="73.6" y="464.4">($11,000)</text>
<text x="73.6" y="486.4">($12,000)</text>
<text x="73.6" y="508.4">($13,000)</text>
<text x="73.6" y="531.4">($14,000)</text>
<text x="73.6" y="553.4">($15,000)</text>
<text x="73.6" y="576.4">($16,000)</text>
<text x="73.6" y="598.4">($17,000)</text>
<text x="73.6" y="620.4">($18,000)</text>
<text x="73.6" y="643.4">($19,000)</text>
<text x="73.6" y="665.4">($20,000)</text>
</g>
<g font-size="12" text-anchor="middle" letter-spacing="0.4">
<text x="117.6" y="683">0</text>
<text x="160.6" y="683">100</text>
<text x="203.6" y="683">200</text>
<text x="247.6" y="683">300</text>
<text x="290.6" y="683">400</text>
<text x="333.6" y="683">500</text>
<text x="377.6" y="683">600</text>
<text x="420.6" y="683">700</text>
<text x="464.6" y="683">800</text>
<text x="507.6" y="683">900</text>
<text x="550.6" y="683">1000</text>
<text x="594.6" y="683">1100</text>
<text x="637.6" y="683">1200</text>
<text x="680.6" y="683">1300</text>
<text x="724.6" y="683">1400</text>
<text x="767.6" y="683">1500</text>
<text x="811.6" y="683">1600</text>
<text x="854.6" y="683">1700</text>
<text x="897.6" y="683">1800</text>
<text x="941.6" y="683">1900</text>
</g>
<text x="549" y="703.7" font-size="14.67" font-weight="bold" text-anchor="middle">Hand</text>
<text transform="translate(29.6,405) rotate(-90)" font-size="14.67" font-weight="bold" text-anchor="middle">Total $$</text>
</g>
</svg>

<div id="bborder" class="abs"></div>
<div id="taskbar" class="abs"></div>
<!-- start button sliver -->
<div class="abs" style="left:-30px;top:718px;width:40px;height:29px;border-radius:0 12px 12px 0;background:linear-gradient(to bottom,#6cc070 0,#3ca040 25%,#28962c 48%,#0cb014 52%,#08c010 100%);box-shadow:inset -1px 1px 1px rgba(255,255,255,0.5);"></div>
<!-- grips -->
<div class="abs grip" style="left:18px;"></div>
<div class="abs grip" style="left:124px;"></div>
<!-- quick launch -->
<svg class="abs" style="left:30px;top:722px;" width="66" height="20" viewBox="0 0 66 20">
 <defs>
  <radialGradient id="q1" cx="0.45" cy="0.7" r="0.7"><stop offset="0" stop-color="#5cc0f8"/><stop offset="0.6" stop-color="#2c78d8"/><stop offset="1" stop-color="#1c3c98"/></radialGradient>
  <radialGradient id="q3" cx="0.4" cy="0.4" r="0.7"><stop offset="0" stop-color="#ffffff"/><stop offset="0.6" stop-color="#c8d4e0"/><stop offset="1" stop-color="#8898b0"/></radialGradient>
 </defs>
 <circle cx="9" cy="10" r="7.6" fill="url(#q1)"/>
 <path d="M4 3.5 A8.4 8.4 0 1 0 17.2 12.2" stroke="#e8d018" stroke-width="1.9" fill="none"/>
 <path d="M5.5 13 Q8 8 13.5 7" stroke="#e8e070" stroke-width="1.2" fill="none"/>
 <path d="M27 2.5 L37 2.5 L40.5 6 L40.5 14 L37 17.5 L27 17.5 L23.5 14 L23.5 6 Z" fill="#141c50"/>
 <path d="M25.5 12 Q26 5 36 5.5 M27 14 Q28 7.5 38 8 M29.5 15.5 Q30 10 35 10" stroke="#e8ecf8" stroke-width="1.3" fill="none"/>
 <circle cx="55" cy="10" r="8" fill="url(#q3)" stroke="#90a0b8" stroke-width="0.6"/>
 <path d="M53.5 13 V5 L59 3.5 V11.5" stroke="#2868d8" stroke-width="1.6" fill="none"/>
 <ellipse cx="52" cy="13.2" rx="2" ry="1.6" fill="#2868d8"/><ellipse cx="57.5" cy="11.8" rx="2" ry="1.6" fill="#2868d8"/>
</svg>
<svg class="abs" style="left:106px;top:723px;" width="10" height="7" viewBox="0 0 10 7"><path d="M1 1 L4 3.5 L1 6 M5.5 1 L8.5 3.5 L5.5 6" stroke="#fff" stroke-width="1.3" fill="none"/></svg>

<div class="tb" style="left:135px;">AOL Mail (2…</div>
<div class="tb" style="left:247px;">Iansafunny…</div>
<div class="tb" style="left:359px;">Poker Track…</div>
<div class="tb" style="left:471px;">PLO</div>
<div class="tb" style="left:583px;">PokerStars …</div>
<div class="tb" style="left:695px;">Full Tilt Pok…</div>
<div class="tb" style="left:807px;">PokerAce H…</div>
<div class="tb act" style="left:919px;padding-left:28.5px;letter-spacing:-0.32px;">PokerEV 0.80</div>

<!-- firefox -->
<svg class="abs" style="left:144px;top:723px;" width="16" height="16" viewBox="0 0 16 16">
 <defs><radialGradient id="ff" cx="0.4" cy="0.5" r="0.65"><stop offset="0" stop-color="#fbc050"/><stop offset="0.6" stop-color="#f08a20"/><stop offset="1" stop-color="#c8440c"/></radialGradient>
 <radialGradient id="fg" cx="0.5" cy="0.35" r="0.7"><stop offset="0" stop-color="#5c9cf0"/><stop offset="1" stop-color="#1c3ca0"/></radialGradient></defs>
 <circle cx="8" cy="8.4" r="7.4" fill="url(#ff)"/>
 <circle cx="8.8" cy="7.3" r="5.3" fill="url(#fg)"/>
 <path d="M1.8 5 Q4.5 2.6 7.6 4.2 Q5.6 5.6 5.8 8.2 Q6.2 10.6 9.2 11 Q11.5 11.2 13.2 9.8 Q12.5 13 8.5 13.4 Q3 13.4 1.8 5 Z" fill="#f29428"/>
 <path d="M2.6 3.4 L4.6 5.2 L2.2 7 Z" fill="#e87818"/>
</svg>
<!-- aim man -->
<svg class="abs" style="left:256px;top:723px;" width="17" height="16" viewBox="0 0 17 16">
 <rect x="9.5" y="1.5" width="6" height="7" fill="#fff" stroke="#202020" stroke-width="1"/>
 <path d="M11 3.5 H14 M11 5.5 H14" stroke="#404040" stroke-width="0.8"/>
 <circle cx="6.3" cy="3" r="2.3" fill="#f0a010" stroke="#402800" stroke-width="0.7"/>
 <path d="M6.5 5.5 L4.5 10 L1 14.5 M4.5 10 L8 11.5 L9 15 M6.2 6.5 L2.5 8 M6.5 6.5 L10 8.5" stroke="#402800" stroke-width="3.2" fill="none" stroke-linecap="round"/>
 <path d="M6.5 5.5 L4.5 10 L1 14.5 M4.5 10 L8 11.5 L9 15 M6.2 6.5 L2.5 8 M6.5 6.5 L10 8.5" stroke="#f0a010" stroke-width="2" fill="none" stroke-linecap="round"/>
</svg>
<!-- PT -->
<svg class="abs" style="left:367px;top:722px;" width="18" height="18" viewBox="0 0 18 18">
 <text x="0.5" y="9.5" font-family="Liberation Sans, sans-serif" font-size="11" font-weight="bold" fill="#d01010" stroke="#600000" stroke-width="0.4">PT</text>
 <circle cx="9" cy="13" r="3.2" fill="none" stroke="#18d018" stroke-width="1.8"/>
</svg>
<!-- folder -->
<svg class="abs" style="left:479px;top:723px;" width="17" height="16" viewBox="0 0 17 16">
 <path d="M1 3.5 L1 13 L13 13 L13 4.5 L7 4.5 L5.5 2.5 L2 2.5 Z" fill="#e8c850" stroke="#a88820" stroke-width="0.8"/>
 <path d="M3 13.5 L1.5 6.5 L14.5 6.5 L15.5 13.5 Z" fill="#fce890" stroke="#b89830" stroke-width="0.8"/>
</svg>
<!-- pokerstars spade -->
<svg class="abs" style="left:591px;top:723px;" width="16" height="16" viewBox="0 0 16 16">
 <path d="M8 1 C9 4 14.5 6.5 14.5 10 C14.5 12.5 11 13.5 9 11.5 L10 15 L6 15 L7 11.5 C5 13.5 1.5 12.5 1.5 10 C1.5 6.5 7 4 8 1 Z" fill="#e01818" stroke="#901010" stroke-width="0.6"/>
 <path d="M8 6 L8.8 8.2 L11 8.2 L9.2 9.6 L9.9 11.8 L8 10.4 L6.1 11.8 L6.8 9.6 L5 8.2 L7.2 8.2 Z" fill="#fff"/>
</svg>
<!-- full tilt -->
<svg class="abs" style="left:703px;top:723px;" width="17" height="16" viewBox="0 0 17 16">
 <path d="M1 3.5 L16 3.5 L8.5 12.5 Z" fill="#d81830" stroke="#f8d8d8" stroke-width="1.3" stroke-linejoin="round"/>
</svg>
<!-- pokerace -->
<svg class="abs" style="left:815px;top:723px;" width="16" height="16" viewBox="0 0 16 16">
 <rect x="2" y="1" width="12" height="10.5" rx="1" fill="#70a8e8" stroke="#d0e0f8" stroke-width="1"/>
 <path d="M8 3 C8.5 4.5 11 5.5 11 7.3 C11 8.5 9.3 8.8 8.5 8 L9 9.8 L7 9.8 L7.5 8 C6.7 8.8 5 8.5 5 7.3 C5 5.5 7.5 4.5 8 3 Z" fill="#183878"/>
 <path d="M6.5 11.5 H9.5 V13.5 H6.5 Z" fill="#a0c0e8"/><path d="M4 14 H12 V15.2 H4 Z" fill="#c8dcf4"/>
</svg>
<!-- pokerev -->
<svg class="abs" style="left:927px;top:723px;" width="18" height="16" viewBox="0 0 18 16">
 <path d="M3 3 L9 3 M3 3 L3 11 M3 7 L8 7 M3 11 L9 11" stroke="#f01018" stroke-width="2" fill="none"/>
 <path d="M7.5 6 L10.5 13 L13 5.5" stroke="#101850" stroke-width="1.6" fill="none" transform="translate(1,1)" opacity="0.7"/>
 <path d="M7 5.5 L10 12.5 L12.7 5" stroke="#1a10f0" stroke-width="1.6" fill="none"/>
</svg>

</div>
</body>
</html>
